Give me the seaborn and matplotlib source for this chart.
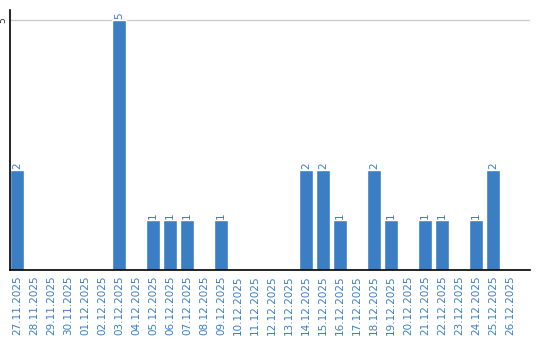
import matplotlib
matplotlib.use("Agg")
import matplotlib.pyplot as plt
import seaborn as sns
import pandas as pd

dates = ["27.11.2025", "28.11.2025", "29.11.2025", "30.11.2025", "01.12.2025",
         "02.12.2025", "03.12.2025", "04.12.2025", "05.12.2025", "06.12.2025",
         "07.12.2025", "08.12.2025", "09.12.2025", "10.12.2025", "11.12.2025",
         "12.12.2025", "13.12.2025", "14.12.2025", "15.12.2025", "16.12.2025",
         "17.12.2025", "18.12.2025", "19.12.2025", "20.12.2025", "21.12.2025",
         "22.12.2025", "23.12.2025", "24.12.2025", "25.12.2025", "26.12.2025"]
values = [2, 0, 0, 0, 0, 0, 5, 0, 1, 1,
          1, 0, 1, 0, 0, 0, 0, 2, 2, 1,
          0, 2, 1, 0, 1, 1, 0, 1, 2, 0]
y_ticks = [5]

BLUE = "#3b7ec3"
sns.set_style("white")
plt.rcParams['font.family'] = ['DejaVu Sans']

df = pd.DataFrame({"date": dates, "value": values})
fig = plt.figure(figsize=(5.4, 3.4), dpi=100)
ax = fig.add_axes([10/540, 70/340, 520/540, 260/340])
sns.barplot(data=df, x="date", y="value", color=BLUE, width=0.82,
            saturation=1, ax=ax, order=dates)

ax.set_xlim(-7/17, 30.18)
ax.set_ylim(0, 5.2)
ax.set_yticks(y_ticks)
ax.set_yticklabels([str(t) for t in y_ticks], rotation=90, fontsize=6.5,
                   va="center", ha="center")
ax.tick_params(axis="y", length=0, pad=5)
ax.tick_params(axis="x", length=0, pad=4)
ax.set_xticks(range(len(dates)))
ax.set_xticklabels(dates, rotation=90, fontsize=7.5, color=BLUE)
ax.yaxis.grid(True, color="#cccccc", linewidth=1)
ax.set_axisbelow(True)
ax.set_xlabel("")
ax.set_ylabel("")
for s in ["top", "right"]:
    ax.spines[s].set_visible(False)
for s in ["left", "bottom"]:
    ax.spines[s].set_color("black")
    ax.spines[s].set_linewidth(1.2)

cont = ax.containers[0]
labels = [str(v) if v > 0 else "" for v in values]
ax.bar_label(cont, labels=labels, rotation=90, fontsize=7.5, color=BLUE,
             padding=1)

fig.savefig("out.png", dpi=100)
